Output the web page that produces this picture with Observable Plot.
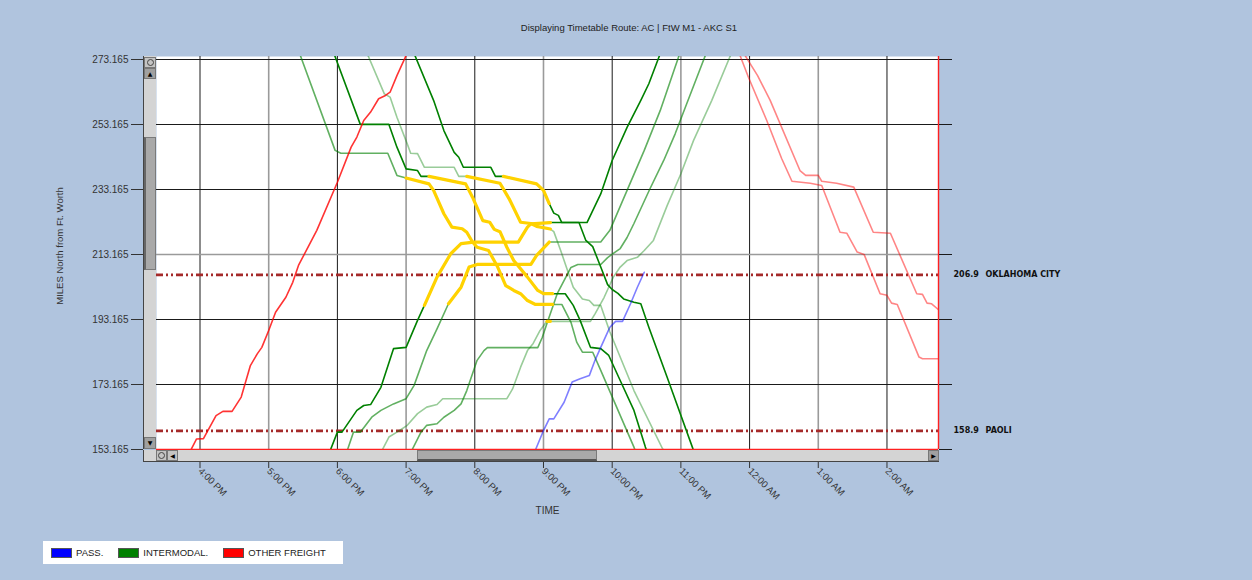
<!DOCTYPE html>
<html>
<head>
<meta charset="utf-8">
<script src="https://cdn.jsdelivr.net/npm/d3@7"></script>
<script src="https://cdn.jsdelivr.net/npm/@observablehq/plot@0.6"></script>
<style>
  body { margin: 0; background: #B0C4DE; font-family: "Liberation Sans", Arial, sans-serif; }
  #wrap { position: relative; width: 1252px; height: 580px; overflow: hidden; background: #B0C4DE; }
  #title { position: absolute; top: 22px; left: 0; width: 1258px; text-align: center; font-size: 9.5px; color: #222; }
  #chart { position: absolute; left: 0; top: 0; }
  .sb { position: absolute; background: #D4D4D4; box-sizing: border-box; }
  .btn { position: absolute; box-sizing: border-box; background: #C4C4C4; border: 1px solid #777;
         font-family: "DejaVu Sans", sans-serif; font-size: 6px; line-height: 9px; text-align: center; color: #000; }
  .circ { display: inline-block; width: 5px; height: 5px; border: 1px solid #444; border-radius: 50%; margin-top: 1px; }
  .thumb { position: absolute; box-sizing: border-box; background: #A9A9A9; border: 1px solid #7a7a7a; }
  #legend { position: absolute; left: 43px; top: 541px; width: 300px; height: 23px; background: #fff;
            display: flex; align-items: center; padding-left: 8px; box-sizing: border-box; font-size: 9.5px; color: #222; }
  .item { display: flex; align-items: center; margin-right: 15px; }
  .sw { display: inline-block; width: 19px; height: 8px; border: 1px solid #555; margin-right: 4px; }
</style>
</head>
<body>
<div id="wrap">
  <div id="chart"></div>
  <div id="title">Displaying Timetable Route: AC | FtW M1 - AKC S1</div>
  <div class="sb" style="left:143px;top:56px;width:13px;height:393px;border-left:1px solid #444;">
    <div class="btn" style="left:0;top:1px;width:12px;height:11px;"><span class="circ"></span></div>
    <div class="btn" style="left:0;top:12px;width:12px;height:11px;background:#A0A0A0;">▲</div>
    <div class="thumb" style="left:0;top:81px;width:12px;height:133px;border-left:2px solid #666;"></div>
    <div class="btn" style="left:0;top:381px;width:12px;height:12px;background:#A0A0A0;">▼</div>
  </div>
  <div class="sb" style="left:143px;top:450px;width:796px;height:12px;border-left:1px solid #444;border-bottom:1px solid #444;">
    <div class="btn" style="left:12px;top:0;width:11px;height:11px;"><span class="circ"></span></div>
    <div class="btn" style="left:23px;top:0;width:11px;height:11px;">◀</div>
    <div class="thumb" style="left:273px;top:0;width:180px;height:11px;border-bottom:2px solid #555;"></div>
    <div class="btn" style="left:784px;top:0;width:11px;height:11px;background:#A0A0A0;">▶</div>
  </div>
  <div id="legend"></div>
</div>
<script>
// ---------- axis / scale data ----------
const timeRange = ["15:22", "26:45"];
const mileRange = [153.165, 274.09];
const xTickHours = [16, 17, 18, 19, 20, 21, 22, 23, 24, 25, 26];
const xTickLabels = ["4:00 PM", "5:00 PM", "6:00 PM", "7:00 PM", "8:00 PM", "9:00 PM", "10:00 PM", "11:00 PM", "12:00 AM", "1:00 AM", "2:00 AM"];
const yTicks = [153.165, 173.165, 193.165, 213.165, 233.165, 253.165, 273.165];

const categories = ["PASS.", "INTERMODAL.", "OTHER FREIGHT"];
const categoryColors = ["#0000FF", "#008000", "#FF0000"];

const stationMiles = [206.9, 158.9];
const stationNames = ["OKLAHOMA CITY", "PAOLI"];

// ---------- trains (times hh:mm, hours >= 24 are after midnight) ----------
// Other freight, northbound
const of1Times = ["15:52","15:57","16:03","16:14","16:20","16:28","16:36","16:44","16:50","16:54","17:00","17:06","17:15","17:21","17:26","17:42","18:00","18:12","18:17","18:23","18:29","18:36","18:42","18:46","18:52","19:00"];
const of1Miles = [153.0,156.4,156.5,163.6,164.9,164.9,169.3,179.0,182.6,184.6,189.8,195.4,200.0,204.6,209.8,220.6,235.4,246.2,249.3,254.4,257.0,261.1,262.1,263.1,268.2,274.4];
// Other freight, southbound
const of2Times = ["23:51","23:59","24:15","24:28","24:37","24:53","25:03","25:19","25:25","25:34","25:40","25:54","26:00","26:04","26:09","26:28","26:31","26:50"];
const of2Miles = [275.0,267.7,254.4,242.7,235.7,235.1,234.4,220.0,219.7,213.9,213.2,201.1,200.6,198.2,197.8,181.6,181.1,181.1];
const of3Times = ["23:55","24:07","24:18","24:44","24:49","25:00","25:03","25:16","25:31","25:48","26:03","26:26","26:31","26:35","26:39","26:45","26:51"];
const of3Miles = [275.0,268.2,260.6,239.0,237.5,237.5,235.7,235.1,233.9,220.0,219.7,201.1,200.9,198.2,198.0,196.2,194.1];
// Passenger, northbound
const pass1Times = ["20:52","21:00","21:05","21:09","21:18","21:25","21:32","21:40","21:45","21:50","21:58","22:03","22:09","22:16","22:22","22:28"];
const pass1Miles = [152.2,159.0,162.6,162.6,167.7,173.9,174.9,175.9,180.6,184.6,190.8,192.6,192.6,198.0,203.1,207.7];
// Intermodal, southbound
const imS1Times = ["17:27","17:58","18:03","18:44","18:52","19:00","19:20","19:24","19:33","19:40","19:49","19:53","19:58","20:02","20:12","20:20","20:27","20:34","20:40","20:46","20:53","21:08","21:16","21:24","21:29","21:34","21:43","21:50","22:19","22:20"];
const imS1Miles = [275.0,245.2,244.3,244.3,237.5,236.7,234.9,232.9,225.7,221.6,221.1,220.0,217.0,215.4,214.4,209.3,203.6,202.1,201.1,199.0,197.8,197.8,197.8,192.3,186.2,183.1,183.1,177.5,153.9,152.9];
const imS2Times = ["17:57","18:20","18:45","18:52","19:00","19:10","19:13","19:20","19:52","19:58","20:07","20:13","20:17","20:22","20:28","20:34","20:46","20:55","21:00","21:08","21:19","21:26","21:32","21:41","21:50","21:57","22:01","22:07","22:19","22:29","22:30"];
const imS2Miles = [275.0,253.2,253.2,246.2,239.5,239.0,237.2,237.2,234.9,230.8,223.6,223.1,220.9,220.2,215.4,211.3,206.2,202.1,201.1,201.1,201.1,197.5,192.9,184.6,184.2,182.1,179.0,174.4,165.2,153.9,152.9];
const imS3Times = ["18:26","18:41","18:46","18:52","19:01","19:04","19:10","19:16","19:42","19:46","19:53","20:22","20:30","20:40","20:49","20:54","21:06","21:09","21:15","21:26","21:34","21:40","21:44","21:50","21:58","22:19","22:44","22:46"];
const imS3Miles = [275.0,262.6,261.6,255.4,247.2,244.3,244.2,240.0,240.0,237.2,237.2,235.1,230.3,223.1,222.7,221.8,221.0,220.2,214.4,203.1,199.5,199.0,197.5,197.5,189.3,171.3,153.4,152.5];
const imS4Times = ["19:07","19:24","19:33","19:42","19:46","19:50","20:14","20:18","20:25","20:54","21:00","21:05","21:09","21:13","21:16","21:31","21:37","21:43","21:50","21:56","22:00","22:05","22:10","22:19","22:25","22:32","22:48","23:10","23:11"];
const imS4Miles = [275.0,260.6,251.3,244.6,243.1,240.0,240.0,237.2,237.2,234.9,232.9,228.8,225.9,225.2,223.0,223.0,217.5,215.6,209.3,203.9,202.4,201.2,199.5,198.5,198.0,190.8,175.4,153.9,152.9];
// Intermodal, northbound
const imN1Times = ["17:53","18:00","18:04","18:17","18:23","18:29","18:38","18:49","19:00","19:10","19:16","19:27","19:39","19:48","19:59","20:38","20:46","20:49","21:06","21:38","21:50","22:00","22:13","22:25","22:32","22:42"];
const imN1Miles = [152.2,158.5,158.5,165.2,166.7,167.0,172.3,184.2,184.6,192.9,197.5,206.2,213.4,216.5,217.0,217.0,221.6,222.6,223.0,223.0,231.8,242.1,252.3,260.6,265.7,275.0];
const imN2Times = ["18:08","18:14","18:20","18:30","18:38","18:49","19:00","19:07","19:18","19:27","19:37","19:48","19:55","20:02","20:49","20:54","21:05","21:50","21:58","22:13","22:28","22:42","22:59"];
const imN2Miles = [152.2,158.5,158.5,163.1,165.2,167.2,168.8,172.9,183.6,190.3,198.0,203.1,209.3,210.1,210.1,212.9,217.0,217.0,220.6,232.9,245.2,257.5,275.0];
const imN3Times = ["19:04","19:13","19:18","19:27","19:33","19:42","19:48","19:53","20:02","20:08","20:11","20:55","20:59","21:03","21:12","21:24","21:30","21:50","21:56","22:01","22:07","22:13","22:19","22:33","22:45","22:55","23:05","23:22"];
const imN3Miles = [152.2,158.5,160.6,161.1,163.1,165.2,167.2,171.3,180.6,183.6,184.5,184.5,187.7,191.9,201.1,209.2,210.1,210.1,212.2,213.5,215.0,218.4,222.7,233.4,242.1,250.3,259.5,275.0];
const imN4Times = ["18:38","18:45","18:52","19:01","19:10","19:18","19:27","19:32","20:28","20:33","20:40","20:46","20:51","20:57","21:03","21:06","21:41","21:45","21:53","22:01","22:07","22:13","22:22","22:28","22:36","22:48","23:00","23:11","23:27","23:44"];
const imN4Miles = [152.2,157.0,158.5,160.6,164.2,166.2,167.0,168.8,168.8,171.8,178.5,183.6,185.8,189.8,192.6,192.6,192.6,194.9,200.0,206.2,209.3,211.3,212.3,214.4,217.5,228.2,238.0,248.2,260.6,275.0];

// highlighted (yellow) windows per train
const hlS1 = ["19:00", "21:08"];
const hlS2 = ["19:20", "21:08"];
const hlS3 = ["19:53", "21:06"];
const hlS4 = ["20:25", "21:05"];
const hlN1 = ["19:16", "21:06"];
const hlN2 = ["19:37", "21:05"];
const hlN4 = ["21:03", "21:06"];

// ---------- build ----------
const T = s => { const [h, m] = s.split(":").map(Number); return new Date(Date.UTC(2024, 0, 1, h, m)); };
const colorOf = Object.fromEntries(categories.map((c, i) => [c, categoryColors[i]]));

const trains = [
  {type: "INTERMODAL.", shade: 0.4, times: imS3Times, miles: imS3Miles, hl: hlS3},
  {type: "INTERMODAL.", shade: 0.4, times: imN4Times, miles: imN4Miles, hl: hlN4},
  {type: "INTERMODAL.", shade: 0.62, times: imS1Times, miles: imS1Miles, hl: hlS1},
  {type: "INTERMODAL.", shade: 0.62, times: imN2Times, miles: imN2Miles, hl: hlN2},
  {type: "INTERMODAL.", shade: 0.62, times: imN3Times, miles: imN3Miles, hl: null},
  {type: "INTERMODAL.", shade: 1, times: imS2Times, miles: imS2Miles, hl: hlS2},
  {type: "INTERMODAL.", shade: 1, times: imS4Times, miles: imS4Miles, hl: hlS4},
  {type: "INTERMODAL.", shade: 1, times: imN1Times, miles: imN1Miles, hl: hlN1},
  {type: "PASS.", shade: 0.5, times: pass1Times, miles: pass1Miles, hl: null},
  {type: "OTHER FREIGHT", shade: 0.8, times: of1Times, miles: of1Miles, hl: null},
  {type: "OTHER FREIGHT", shade: 0.48, times: of2Times, miles: of2Miles, hl: null},
  {type: "OTHER FREIGHT", shade: 0.48, times: of3Times, miles: of3Miles, hl: null}
].map(tr => ({...tr, pts: tr.times.map((s, i) => ({t: T(s), m: tr.miles[i]}))}));

const xDomain = timeRange.map(T);
const hourDates = xTickHours.map(h => T(h + ":00"));
const fmtHour = d => xTickLabels[hourDates.findIndex(h => +h === +d)];

const marks = [
  Plot.frame({fill: "white", stroke: null}),
  Plot.ruleX(hourDates.filter((d, i) => i % 2 === 0), {stroke: "#1a1a1a", strokeWidth: 1}),
  Plot.ruleX(hourDates.filter((d, i) => i % 2 === 1), {stroke: "#9a9a9a", strokeWidth: 1.6}),
  Plot.ruleY(yTicks.filter((v, i) => i > 0 && i !== 3), {stroke: "#1a1a1a", strokeWidth: 1}),
  Plot.ruleY(yTicks.filter((v, i) => i === 3), {stroke: "#9a9a9a", strokeWidth: 1.6}),
  Plot.ruleY(stationMiles, {stroke: "#A52A2A", strokeWidth: 2.6, strokeDasharray: "7,3,2,3,2,3"}),
  ...trains.map(tr => Plot.line(tr.pts, {x: "t", y: "m", stroke: colorOf[tr.type], strokeOpacity: tr.shade, strokeWidth: 1.6, clip: true})),
  ...trains.filter(tr => tr.hl).map(tr => {
    const a = T(tr.hl[0]), b = T(tr.hl[1]);
    return Plot.line(tr.pts.filter(p => p.t >= a && p.t <= b), {x: "t", y: "m", stroke: "#FFD200", strokeWidth: 3.2, clip: true});
  }),
  Plot.ruleY(mileRange.slice(0, 1), {stroke: "#FF2020", strokeWidth: 1.4}),
  Plot.ruleX(xDomain.slice(1), {stroke: "#FF2020", strokeWidth: 1.4}),
  Plot.axisY(yTicks, {anchor: "left", tickSize: 12, dx: -13, tickPadding: 3, tickFormat: d => d.toFixed(3), label: null, fontSize: 10, color: "#333"}),
  Plot.axisY(yTicks, {anchor: "right", tickSize: 13, tickFormat: () => "", label: null, stroke: "#1a1a1a"}),
  Plot.axisX(hourDates, {anchor: "bottom", tickSize: 7, dy: 12, tickRotate: 45, tickPadding: 1, tickFormat: fmtHour, label: null, fontSize: 9.5, color: "#333"}),
  Plot.text(stationMiles, {y: d => d, text: d => d.toFixed(1), frameAnchor: "right", dx: 15, textAnchor: "start", fontWeight: "bold", fontSize: 8, fontFamily: "DejaVu Sans", fill: "#111"}),
  Plot.text(stationNames, {y: (d, i) => stationMiles[i], text: d => d, frameAnchor: "right", dx: 47, textAnchor: "start", fontWeight: "bold", fontSize: 8, fontFamily: "DejaVu Sans", fill: "#111"}),
  Plot.text(["MILES North from Ft. Worth"], {text: d => d, frameAnchor: "left", textAnchor: "middle", rotate: -90, dx: -97, dy: -7, fontSize: 9.5, fill: "#333"}),
  Plot.text(["TIME"], {text: d => d, frameAnchor: "bottom", dy: 64, fontSize: 10, fill: "#333"})
];

const chart = Plot.plot({
  width: 1252,
  height: 580,
  marginLeft: 156,
  marginRight: 314,
  marginTop: 56,
  marginBottom: 131,
  x: {type: "utc", domain: xDomain, label: null},
  y: {domain: mileRange, label: null},
  style: {background: "transparent", fontFamily: "'Liberation Sans', Arial, sans-serif", fontSize: "10px", color: "#333"},
  marks
});
document.getElementById("chart").appendChild(chart);

// legend from the category arrays
const legend = document.getElementById("legend");
categories.forEach((c, i) => {
  const item = document.createElement("span");
  item.className = "item";
  const sw = document.createElement("span");
  sw.className = "sw";
  sw.style.background = categoryColors[i];
  item.appendChild(sw);
  item.appendChild(document.createTextNode(c));
  legend.appendChild(item);
});
</script>
</body>
</html>
